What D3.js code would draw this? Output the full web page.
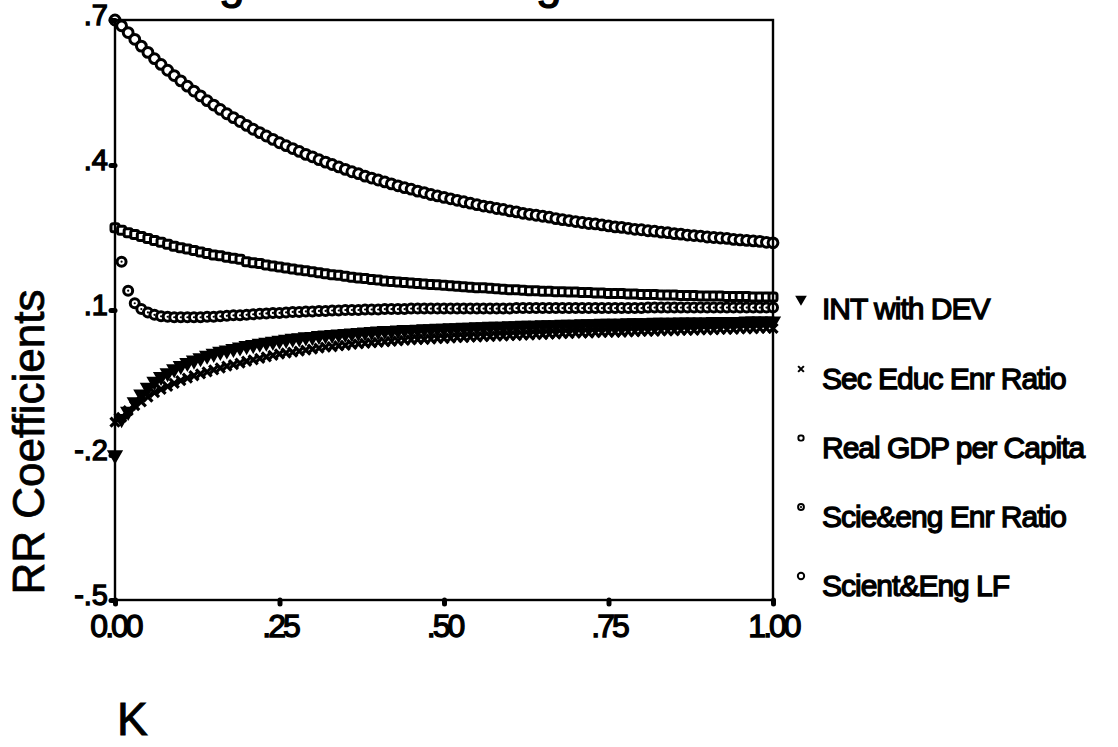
<!DOCTYPE html>
<html>
<head>
<meta charset="utf-8">
<script src="https://cdn.jsdelivr.net/npm/d3@7"></script>
<style>
  html, body { margin: 0; padding: 0; background: #fff; }
  svg { display: block; font-family: "Liberation Sans", Arial, sans-serif; }
</style>
</head>
<body>
<div id="chart"></div>
<script>
// ridge trace: coefficient vs K (step .01)
const kValues = d3.range(0, 101).map(i => i / 100);

const intWithDev = [
  -.200, -.125, -.110, -.090, -.074, -.060, -.048, -.038, -.030, -.022,
  -.015, -.009, -.004, .001, .006, .010, .014, .017, .020, .023,
  .026, .028, .031, .033, .035, .037, .039, .041, .042, .044,
  .045, .047, .048, .049, .050, .051, .052, .053, .054, .055,
  .056, .057, .057, .058, .059, .059, .060, .061, .061, .062,
  .062, .063, .063, .064, .064, .065, .065, .066, .066, .066,
  .067, .067, .068, .068, .068, .069, .069, .069, .070, .070,
  .070, .071, .071, .071, .072, .072, .072, .072, .073, .073,
  .073, .073, .074, .074, .074, .074, .075, .075, .075, .075,
  .075, .076, .076, .076, .076, .076, .077, .077, .077, .077,
  .077
];

const secEduc = [
  -.132, -.122, -.108, -.098, -.090, -.080, -.071, -.064, -.058, -.052,
  -.046, -.041, -.036, -.032, -.028, -.024, -.020, -.016, -.013, -.010,
  -.006, -.003, .000, .003, .006, .009, .011, .013, .015, .017,
  .019, .021, .023, .024, .026, .027, .029, .030, .031, .032,
  .033, .034, .035, .036, .037, .038, .039, .039, .040, .041,
  .041, .042, .043, .043, .044, .044, .045, .045, .046, .046,
  .047, .047, .048, .048, .049, .049, .050, .050, .051, .051,
  .052, .052, .052, .053, .053, .054, .054, .054, .055, .055,
  .056, .056, .056, .057, .057, .057, .058, .058, .058, .059,
  .059, .059, .060, .060, .060, .061, .061, .061, .062, .062,
  .062
];

const realGdp = [
  .270, .265, .260, .256, .252, .248, .244, .240, .236, .232,
  .229, .226, .223, .220, .217, .214, .212, .209, .207, .205,
  .200, .198, .196, .193, .191, .189, .187, .185, .183, .181,
  .179, .177, .175, .173, .172, .170, .168, .166, .165, .163,
  .162, .160, .159, .158, .157, .156, .155, .154, .153, .152,
  .151, .150, .149, .148, .147, .146, .146, .145, .144, .143,
  .142, .142, .141, .140, .140, .139, .139, .138, .138, .137,
  .137, .136, .136, .135, .135, .134, .134, .134, .133, .133,
  .132, .132, .132, .131, .131, .131, .130, .130, .130, .129,
  .129, .129, .129, .128, .128, .128, .128, .127, .127, .127,
  .127
];

const scieEngEnr = [
  null, .200, .140, .114, .102, .095, .090, .087, .086, .085,
  .085, .085, .085, .085, .086, .086, .087, .088, .089, .089,
  .090, .091, .092, .093, .094, .094, .095, .096, .096, .097,
  .097, .098, .098, .099, .099, .100, .100, .100, .101, .101,
  .101, .102, .102, .102, .102, .103, .103, .103, .103, .103,
  .103, .103, .103, .103, .103, .103, .103, .103, .103, .103,
  .103, .104, .104, .104, .104, .104, .104, .104, .104, .104,
  .104, .104, .104, .104, .104, .104, .104, .104, .104, .104,
  .104, .105, .105, .105, .105, .105, .105, .105, .105, .105,
  .105, .105, .105, .105, .105, .105, .105, .105, .105, .105,
  .105
];

const scientEngLf = [
  .700, .688, .674, .660, .646, .633, .620, .608, .596, .585,
  .574, .563, .553, .543, .533, .524, .515, .506, .498, .490,
  .482, .474, .467, .460, .453, .446, .440, .434, .428, .422,
  .417, .411, .406, .401, .396, .391, .386, .382, .377, .373,
  .369, .365, .361, .357, .353, .350, .346, .343, .339, .336,
  .333, .330, .327, .324, .321, .318, .315, .313, .310, .308,
  .305, .303, .300, .298, .296, .294, .292, .289, .287, .285,
  .283, .281, .279, .278, .276, .274, .272, .271, .269, .267,
  .266, .264, .263, .261, .260, .258, .257, .255, .254, .253,
  .251, .250, .249, .248, .246, .245, .244, .243, .242, .240,
  .239
];

const seriesNames = ["INT with DEV", "Sec Educ Enr Ratio", "Real GDP per Capita", "Scie&eng Enr Ratio", "Scient&Eng LF"];
const seriesValues = [intWithDev, secEduc, realGdp, scieEngEnr, scientEngLf];
const markerKinds = ["triangle", "cross", "square", "dotcircle", "circle"];

const yTicks = [-.5, -.2, .1, .4, .7];
const xTicks = [0, .25, .5, .75, 1];

const width = 1118, height = 747;
const plot = { left: 115, right: 773, top: 20, bottom: 600 };

const svg = d3.select("#chart").append("svg")
  .attr("width", width)
  .attr("height", height);

const x = d3.scaleLinear().domain([0, 1]).range([plot.left, plot.right]);
const y = d3.scaleLinear().domain([-.5, .7]).range([plot.bottom, plot.top]);

// title, only its descenders are inside the picture (as in the scan)
svg.append("text")
  .attr("x", 150)
  .attr("y", -2)
  .attr("stroke", "#000").attr("stroke-width", 1.2)
  .style("font-size", "46px")
  .text("Ridge Trace for Regression");

// draw one marker
function drawMarker(sel, kind, big) {
  const s = big ? 1 : 0.65;
  if (kind === "circle") {
    sel.append("circle").attr("r", 4.9 * s)
      .attr("fill", "#fff").attr("stroke", "#000").attr("stroke-width", 3 * s);
  } else if (kind === "dotcircle") {
    sel.append("circle").attr("r", 4.5 * s)
      .attr("fill", "#fff").attr("stroke", "#000").attr("stroke-width", 3 * s);
    sel.append("circle").attr("r", 1.1).attr("fill", "#000");
  } else if (kind === "square") {
    sel.append("rect").attr("x", -4 * s).attr("y", -4 * s)
      .attr("width", 8 * s).attr("height", 8 * s).attr("rx", 2)
      .attr("fill", "#fff").attr("stroke", "#000").attr("stroke-width", 3 * s);
  } else if (kind === "triangle") {
    sel.append("path")
      .attr("d", d3.symbol(d3.symbolTriangle, 75 * s * s)())
      .attr("transform", "rotate(180)")
      .attr("fill", "#000").attr("stroke", "#000").attr("stroke-width", 1.8);
  } else {
    sel.append("path")
      .attr("d", d3.symbol(d3.symbolX, 55 * s * s)())
      .attr("fill", "none").attr("stroke", "#000").attr("stroke-width", 3.2 * s);
  }
}

// series markers
seriesValues.forEach((vals, si) => {
  const pts = kValues.map((k, i) => ({ k: k, v: vals[i] })).filter(d => d.v !== null);
  svg.append("g")
    .selectAll("g")
    .data(pts)
    .enter()
    .append("g")
    .attr("transform", d => `translate(${x(d.k)},${y(d.v)})`)
    .each(function () { drawMarker(d3.select(this), markerKinds[si], true); });
});

// frame
svg.append("rect")
  .attr("x", plot.left).attr("y", plot.top)
  .attr("width", plot.right - plot.left).attr("height", plot.bottom - plot.top)
  .attr("fill", "none").attr("stroke", "#000").attr("stroke-width", 2.4);

// y axis
const yAxis = svg.append("g")
  .attr("transform", `translate(${plot.left},0)`)
  .call(d3.axisLeft(y).tickValues(yTicks).tickSize(4).tickPadding(3)
    .tickFormat(d => d3.format(".1f")(d).replace("0.", ".").replace("\u2212", "-")));
yAxis.select(".domain").remove();
yAxis.selectAll(".tick line").attr("stroke-width", 5).attr("stroke-linecap", "round");
yAxis.selectAll(".tick text")
  .attr("dy", "0.15em")
  .attr("fill", "#000").attr("stroke", "#000").attr("stroke-width", 1.3)
  .style("font-size", "29px").style("font-family", "Liberation Sans, Arial, sans-serif");

// x axis
const xAxis = svg.append("g")
  .attr("transform", `translate(0,${plot.bottom})`)
  .call(d3.axisBottom(x).tickValues(xTicks).tickSize(4).tickPadding(10)
    .tickFormat(d => d === 0 ? "0.00" : d3.format(".2f")(d).replace(/^0\./, ".")));
xAxis.select(".domain").remove();
xAxis.selectAll(".tick line").attr("stroke-width", 5).attr("stroke-linecap", "round");
xAxis.selectAll(".tick text")
  .attr("fill", "#000").attr("stroke", "#000").attr("stroke-width", 1.3)
  .style("letter-spacing", "-3px")
  .style("font-size", "32px").style("font-family", "Liberation Sans, Arial, sans-serif");

// axis titles
svg.append("text")
  .attr("transform", "translate(44,442) rotate(-90)")
  .attr("text-anchor", "middle")
  .attr("stroke", "#000").attr("stroke-width", 0.8)
  .style("font-size", "44px")
  .text("RR Coefficients");

svg.append("text")
  .attr("x", 117)
  .attr("y", 735)
  .attr("stroke", "#000").attr("stroke-width", 1)
  .style("font-size", "46px")
  .text("K");

// legend
const legendY = [308, 378, 447, 516, 585];
const legend = svg.append("g");
seriesNames.forEach((name, i) => {
  const row = legend.append("g").attr("transform", `translate(0,${legendY[i]})`);
  const m = row.append("g").attr("transform", "translate(801,-9)");
  drawMarker(m, markerKinds[i], false);
  row.append("text")
    .attr("x", 822)
    .attr("y", 11)
    .attr("stroke", "#000").attr("stroke-width", 1.3)
    .style("font-size", "30px")
    .style("letter-spacing", "-1px")
    .text(name);
});
</script>
</body>
</html>
